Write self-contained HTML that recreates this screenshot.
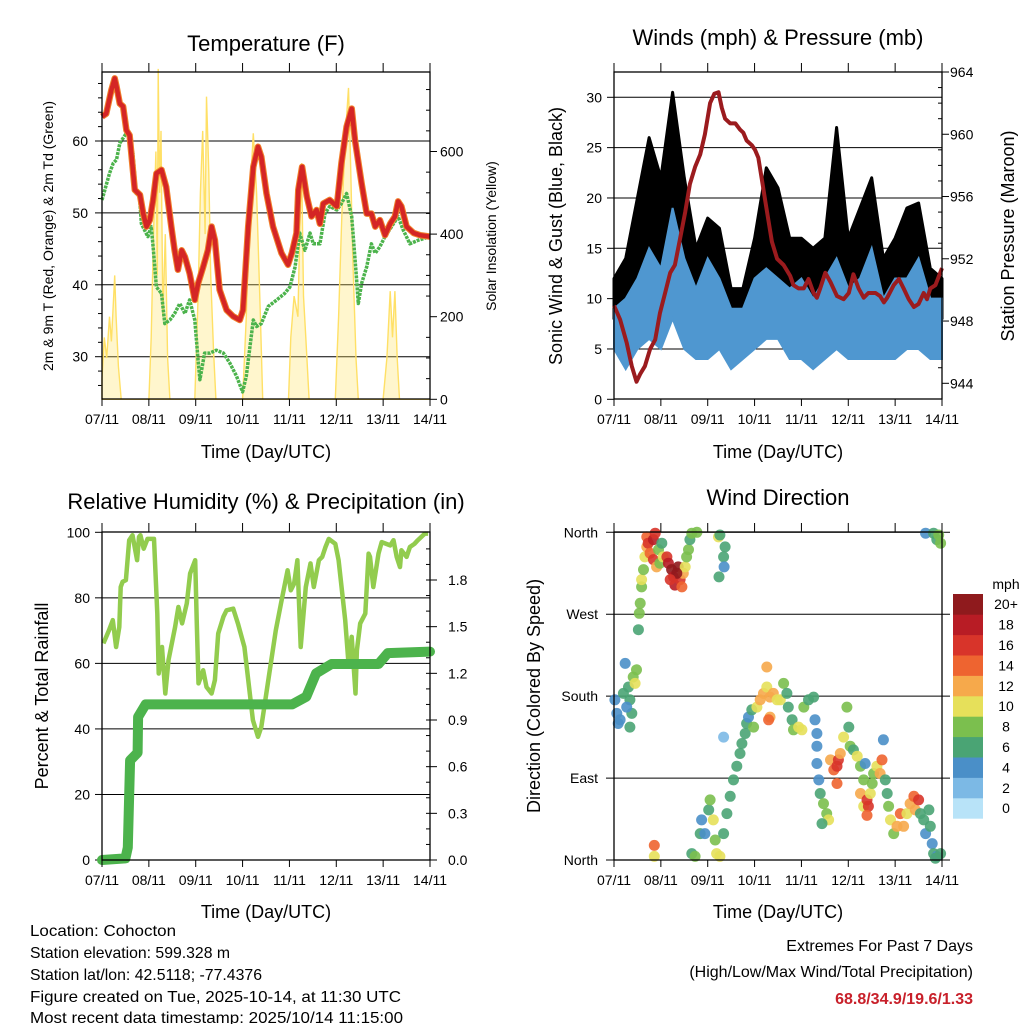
<!DOCTYPE html>
<html><head><meta charset="utf-8"><style>
html,body{margin:0;padding:0;background:#fff}
svg{display:block;font-family:"Liberation Sans",sans-serif}
</style></head><body>
<svg id="fig" width="1024" height="1024" viewBox="0 0 1024 1024" xmlns="http://www.w3.org/2000/svg">
<rect width="1024" height="1024" fill="#fff"/>
<g id="tl"></g>
<g id="tr"></g>
<g id="bl"></g>
<g id="br"></g>
<g id="txt" font-size="14" fill="#000">
<text x="266" y="51" font-size="22" text-anchor="middle">Temperature (F)</text>
<text x="778" y="45" font-size="22" text-anchor="middle">Winds (mph) &amp; Pressure (mb)</text>
<text x="266" y="509" font-size="22" text-anchor="middle">Relative Humidity (%) &amp; Precipitation (in)</text>
<text x="778" y="505" font-size="22" text-anchor="middle">Wind Direction</text>
<text x="266" y="458" font-size="18" text-anchor="middle">Time (Day/UTC)</text>
<text x="778" y="458" font-size="18" text-anchor="middle">Time (Day/UTC)</text>
<text x="266" y="918" font-size="18" text-anchor="middle">Time (Day/UTC)</text>
<text x="778" y="918" font-size="18" text-anchor="middle">Time (Day/UTC)</text>
<text transform="translate(53,236) rotate(-90)" font-size="14" text-anchor="middle">2m &amp; 9m T (Red, Orange) &amp; 2m Td (Green)</text>
<text transform="translate(496,236) rotate(-90)" font-size="14" text-anchor="middle">Solar Insolation (Yellow)</text>
<text transform="translate(562,236) rotate(-90)" font-size="18" text-anchor="middle">Sonic Wind &amp; Gust (Blue, Black)</text>
<text transform="translate(1014,236) rotate(-90)" font-size="18" text-anchor="middle">Station Pressure (Maroon)</text>
<text transform="translate(48,696) rotate(-90)" font-size="18" text-anchor="middle">Percent &amp; Total Rainfall</text>
<text transform="translate(540,696) rotate(-90)" font-size="18" text-anchor="middle">Direction (Colored By Speed)</text>
<g font-size="16">
<text x="30" y="936" textLength="146" lengthAdjust="spacingAndGlyphs">Location: Cohocton</text>
<text x="30" y="958" textLength="200" lengthAdjust="spacingAndGlyphs">Station elevation: 599.328 m</text>
<text x="30" y="980" textLength="232" lengthAdjust="spacingAndGlyphs">Station lat/lon: 42.5118; -77.4376</text>
<text x="30" y="1002" textLength="371" lengthAdjust="spacingAndGlyphs">Figure created on Tue, 2025-10-14, at 11:30 UTC</text>
<text x="30" y="1023" textLength="373" lengthAdjust="spacingAndGlyphs">Most recent data timestamp: 2025/10/14 11:15:00</text>
</g>
<text x="973" y="951" font-size="16" text-anchor="end">Extremes For Past 7 Days</text>
<text x="973" y="977" font-size="16" text-anchor="end">(High/Low/Max Wind/Total Precipitation)</text>
<text x="973" y="1004" font-size="16" font-weight="bold" fill="#c8202a" text-anchor="end">68.8/34.9/19.6/1.33</text>
</g>
</svg>
<script>
// ---------- data ----------
const dayLabels = ["07/11","08/11","09/11","10/11","11/11","12/11","13/11","14/11"];
// Temperature (F)
const tDays = [0,.09,.2,.27,.31,.38,.45,.52,.59,.70,.81,.88,.95,1.02,1.09,1.16,1.27,1.37,1.48,1.55,1.62,1.70,1.77,1.87,1.98,2.05,2.16,2.26,2.34,2.41,2.51,2.66,2.80,2.94,3.01,3.12,3.23,3.33,3.40,3.51,3.65,3.83,3.97,4.05,4.15,4.19,4.27,4.37,4.47,4.58,4.65,4.72,4.86,5.01,5.11,5.22,5.33,5.40,5.54,5.65,5.75,5.83,5.93,6.04,6.15,6.25,6.32,6.39,6.50,6.65,6.79,7.0];
const tempVals = [63.4,63.8,67.1,68.7,67.6,65.2,64.8,61.5,60.8,53.2,52.5,49.9,48.1,49,51.8,55.5,56,53.6,48.1,44.8,42.1,44.8,43.9,41.6,37.9,40.2,42.5,44.8,48.1,46.2,39.3,36.5,35.6,35.1,36.5,48.1,56.4,59.2,57.8,52.7,48.1,44.4,42.8,44.4,47.2,53.2,56.4,52.3,49.5,50.4,48.5,51.3,51.8,50.9,56.9,62,64.5,60.1,54.1,49.9,49.9,48.1,49,46.9,48.5,49.5,51.6,50.9,48.1,47.2,46.9,46.7];
const tdDays = [0,.16,.24,.31,.38,.52,.59,.66,.73,.80,.84,.91,.98,1.05,1.09,1.16,1.27,1.34,1.45,1.55,1.66,1.77,1.87,1.98,2.05,2.09,2.19,2.30,2.44,2.59,2.73,2.87,3.0,3.08,3.23,3.30,3.40,3.55,3.73,3.90,4.01,4.12,4.22,4.33,4.44,4.51,4.65,4.76,4.86,5.01,5.11,5.22,5.33,5.43,5.47,5.54,5.65,5.75,5.83,5.93,6.04,6.18,6.32,6.43,6.57,6.75,7.0];
const dewVals = [51.8,55.5,56.9,57.4,59.7,61.1,60.6,58.3,52.7,52.3,48.5,47.6,46.7,48.1,45.3,39.7,38.8,34.6,35.1,36,37.4,36,37.9,35.1,29.5,26.8,30.5,30.5,30.9,30.5,29.1,27.3,25.1,27.3,35.1,34.2,34.6,37,37.9,38.8,39.7,42.5,47.2,44.8,47.2,45.7,45.7,49.9,50.9,50.4,51.3,52.7,49.5,41.1,37.4,40.2,42.5,45.7,44.4,45.3,46.7,48.1,49.5,47.6,45.7,46.2,46.7];
const solDays = [0,.05,.1,.16,.2,.25,.27,.3,.35,.41, 1.0,1.05,1.1,1.15,1.18,1.2,1.23,1.26,1.3,1.35,1.4,1.45, 1.98,2.05,2.1,2.15,2.2,2.23,2.28,2.32,2.38,2.43, 3.0,3.08,3.15,3.23,3.3,3.38,3.43, 3.98,4.03,4.1,4.18,4.22,4.26,4.3,4.35,4.42, 4.98,5.05,5.12,5.2,5.26,5.3,5.35,5.42,5.47, 6.0,6.08,6.15,6.2,6.25,6.3,6.35];
const solVals = [50,150,100,200,140,250,300,200,80,0, 0,150,400,600,300,800,500,650,200,400,100,0, 0,250,500,650,400,733,550,300,120,0, 0,200,480,644,500,200,0, 0,150,250,200,400,572,250,150,0, 0,200,450,650,754,600,350,100,0, 0,100,262,150,262,100,0];
// Winds (mph) at quarter-day steps
const windDays = [0,.25,.5,.75,1,1.25,1.5,1.75,2,2.25,2.5,2.75,3,3.25,3.5,3.75,4,4.25,4.5,4.75,5,5.25,5.5,5.75,6,6.25,6.5,6.75,7];
const blueLo = [5,3,5,6,5,8,5,4,4,5,3,4,5,6,6,4,4,3,4,5,4,4,4,4,4,5,5,4,4];
const blueHi = [9,10,12,15,13,19,14,11,14,12,9,9,12,13,12,11,12,10,12,14,11,12,15,10,12,12,14,10,10];
const gustLo = [8,9,10,12,10,15,10,8,10,9,7,7,9,12,10,8,8,7,9,10,8,9,10,7,9,10,10,7,8];
const gustHi = [12,14,20,26,22,30.5,22,15,18,17,11,11,16,23,21,16,16,15,16,27,16,19,22,14,16,19,19.5,13,12];
// Pressure (mb)
const pDays = [0,.13,.27,.38,.48,.56,.66,.77,.88,.98,1.09,1.20,1.30,1.41,1.52,1.62,1.73,1.84,1.94,2.05,2.14,2.23,2.30,2.37,2.48,2.59,2.69,2.76,2.83,2.94,3.01,3.08,3.16,3.23,3.30,3.37,3.48,3.62,3.76,3.83,3.94,4.05,4.15,4.26,4.33,4.40,4.51,4.62,4.76,4.90,5.01,5.11,5.22,5.33,5.43,5.58,5.68,5.76,5.83,5.97,6.08,6.18,6.29,6.40,6.50,6.61,6.68,6.75,6.86,7.0];
const presVals = [949.0,948.1,946.6,945.1,944.1,944.6,945.1,946.2,946.8,948.5,949.8,951.1,951.6,953.3,955.0,956.8,957.9,958.7,960.0,962.0,962.6,962.7,961.7,961.0,960.7,960.7,960.3,960.1,959.6,959.3,959.0,958.5,957.0,955.7,954.4,953.1,952.0,951.6,950.9,950.3,950.1,950.1,950.7,949.8,949.5,950.1,951.1,950.5,949.6,949.4,949.8,951.0,950.1,949.5,949.8,949.8,949.6,949.2,949.5,950.3,950.7,950.1,949.4,948.9,949.1,949.8,949.4,950.1,950.3,951.4];
// Relative humidity (%)
const rhDays = [0.03,.15,.23,.30,.37,.40,.44,.51,.58,.65,.75,.79,.82,.89,.97,1.11,1.18,1.21,1.28,1.35,1.42,1.56,1.63,1.71,1.81,1.88,1.99,2.02,2.06,2.16,2.23,2.34,2.41,2.48,2.59,2.66,2.80,2.90,3.04,3.22,3.33,3.40,3.57,3.71,3.82,3.96,4.03,4.10,4.17,4.24,4.35,4.45,4.52,4.63,4.70,4.77,4.84,4.98,5.05,5.19,5.26,5.33,5.41,5.44,5.51,5.62,5.69,5.72,5.79,5.90,5.97,6.15,6.22,6.29,6.36,6.39,6.50,6.57,6.67,6.74,6.89,6.96];
const rhVals = [66.1,70.1,73.2,65,71.1,83.3,84.9,85.4,97.6,99.1,91.5,98.6,99.1,95,98,98,75.2,56.9,65,50.8,61,71.1,77.2,72.2,78.3,87.4,91.5,73.2,53.9,57.9,52.8,50.8,54.9,69.1,74.2,76.2,76.7,72.2,65,42.7,37.6,40.6,56.9,70.1,78.3,88.4,82.3,84.3,91.5,65,83.3,90.5,83.3,91.5,92.5,95.5,98,96.5,91.5,73.2,60,68.1,50.8,64,72.2,75.2,93.5,92.5,83.3,93.5,97,96,97.6,92.5,89.4,94.5,92.5,95.5,96.5,97.6,99.6,99.6];
// Cumulative precipitation (in)
const prDays = [0,.5,.55,.57,.6,.76,.77,.93,4.06,4.36,4.57,4.9,5.9,6.1,7];
const prVals = [0,0.01,0.08,0.3,0.64,0.69,0.92,1.0,1.0,1.05,1.2,1.26,1.26,1.33,1.34];
// Wind direction points
const dirDays = [.02,.06,.13,.20,.24,.31,.34,.38,.41,.45,.48,.27,.09,.34, .52,.54,.56,.59,.59,.63,.66,.70,.70,.73, .77,.84,.88,.84,.91,.95,.98,1.02,1.05,1.13,1.16,1.23,1.27,1.30,1.37,1.41,1.48,1.52,1.55,1.59,1.62,1.66,1.77,1.34,1.45,1.20, 2.23,2.26,2.37,2.34,2.35,2.24, .86,.86, 1.66,1.73,1.84,1.87,1.94,2.02,2.05,2.12,2.16,2.19,2.26,2.34,2.41,2.48,2.55,2.62,2.69,2.73,2.80,2.83,2.87,2.94,2.98,2.34, 3.05,3.12,3.19,3.26,3.26,3.33,3.40,3.48,3.55,3.33,3.30,3.62,3.69,3.72,3.80,3.83,3.94,4.01,4.05,4.15,4.26,4.29,4.33, 4.33,4.33,4.37,4.40,4.47,4.54,4.58,4.44,4.62,4.69,4.76,4.79,4.83,4.76,4.90,4.97,5.01,5.04,5.11,5.19,5.26,5.33,5.36, 5.26,5.33,5.40,5.43,5.40,5.47,5.51,5.54,5.61,5.68,5.72,5.75,5.79,5.83,5.86,5.90,5.97,6.04,6.11,6.18,6.25,6.32,6.40,6.43,6.50,6.54,6.61,6.65,6.72,6.75,6.79,6.82,6.89,6.97,6.86, 6.65,6.82,6.89,6.97,6.93];
const dirDeg = [176,161,154,183,216,190,176,161,201,194,209,168,150,146, 253,271,282,300,308,319,333,344,355,348, 337,352,359,330,322,341,326,348,333,333,326,319,311,302,322,308,315,322,333,341,352,359,360,315,300,308, 355,357,344,333,322,311, 16,4, 7,4,29,44,29,55,66,44,22,7,4,29,51,70,88,103,117,128,139,150,157,165,146,135, 168,176,183,190,212,179,183,176,176,157,154,194,183,168,154,143,146,143,168,176,179,154,139, 125,106,88,73,62,51,44,40,110,99,103,110,117,84,135,168,146,125,121,114,103,88,106, 73,59,66,59,49,73,84,95,103,95,110,132,88,73,59,44,29,37,51,37,51,62,70,55,66,51,44,29,55,37,18,7,4,7,2, 359,359,352,348,357];
const dirSpd = [4,4,4,6,4,6,6,6,8,10,8,4,4,6, 6,8,8,8,10,8,10,12,14,16, 14,18,16,16,12,8,8,6,10,16,18,20,18,18,20,16,12,10,8,8,6,8,8,20,14,16, 10,6,6,6,4,6, 14,10, 6,8,6,4,4,6,8,10,8,10,10,6,6,6,6,6,6,6,6,6,4,6,8,2, 10,12,12,10,12,12,12,10,10,12,14,8,6,6,6,8,10,10,8,6,6,4,4, 4,4,4,6,8,8,10,6,12,14,16,16,12,14,10,8,6,8,6,10,8,8,4, 12,10,16,16,14,10,8,8,10,12,14,4,6,6,8,10,8,12,14,12,10,12,14,12,16,6,6,4,6,6,4,6,4,6,6, 4,6,6,8,8];
const cbLabels = ["0","2","4","6","8","10","12","14","16","18","20+"];
const cbColors = ["#b8e3f8","#7cb9e5","#4a8fc8","#4aa474","#7bbf4e","#e6e05a","#f6a94b","#ee6430","#d8342a","#b81c25","#8f1a1d"];

// ---------- helpers ----------
const NS = "http://www.w3.org/2000/svg";
function mk(parent, tag, attrs){ const e=document.createElementNS(NS,tag); for(const k in attrs) e.setAttribute(k,attrs[k]); parent.appendChild(e); return e; }
function lin(d0,d1,r0,r1){ return v => r0 + (v-d0)/(d1-d0)*(r1-r0); }
function pts(xs,ys,fx,fy){ return xs.map((d,i)=>fx(d).toFixed(1)+","+fy(ys[i]).toFixed(1)).join(" "); }

function frame(g, x0,x1,y0,y1, xs){
  for(let i=0;i<dayLabels.length;i++){
    const x=xs(i);
    const t1=mk(g,"line",{x1:x,x2:x,y1:y0-9,y2:y0,stroke:"#000","stroke-width":1});
    
    
    const t2=mk(g,"line",{x1:x,x2:x,y1:y1,y2:y1+7,stroke:"#000","stroke-width":1});
    
    
    const tx=mk(g,"text",{x:x,y:y1+25,"font-size":14,"text-anchor":"middle"});
    tx.textContent=dayLabels[i];
    
    
  }
}
function box(g,x0,x1,y0,y1){
  const r=mk(g,"rect",{x:x0,y:y0,width:x1-x0,height:y1-y0,fill:"none",stroke:"#000","stroke-width":1.3});
  
  
}
function hgrid(g,x0,x1,y){
  const l=mk(g,"line",{x1:x0,x2:x1,y1:y,y2:y,stroke:"#000","stroke-width":1});
  
  
}
function ylab(g,x,y,s,anchor){
  const t=mk(g,"text",{x:x,y:y+5,"font-size":14,"text-anchor":anchor});
  t.textContent=s;
  
  
}
function tick(g,x,y,len){
  const l=mk(g,"line",{x1:x,x2:x+len,y1:y,y2:y,stroke:"#000","stroke-width":1});
  
  
}

// ---------- Temperature panel ----------
(function(){
  const g=document.getElementById("tl");
  const X0=102,X1=430,Y0=72,Y1=399;
  const fx=lin(0,7,X0,X1), fy=lin(30,60,356.7,141), fs=lin(0,600,399.3,151.5);
  [30,40,50,60].forEach(v=>{hgrid(g,X0,X1,fy(v)); ylab(g,X0-14,fy(v),String(v),"end"); tick(g,X0-7,fy(v),7);});
  for(let v=26;v<=70;v+=2){ if(v%10) tick(g,X0-4,fy(v),4); }
  [0,200,400,600].forEach(v=>{ylab(g,X1+10,fs(v),String(v),"start"); tick(g,X1,fs(v),7);});
  for(let v=50;v<=750;v+=50){ if(v%200) tick(g,X1-4,fs(v),4); }
  const base = fx(0).toFixed(1)+","+fs(0).toFixed(1)+" ";
  const baseEnd = " "+fx(7).toFixed(1)+","+fs(0).toFixed(1);
  const sol=mk(g,"polygon",{points:base+pts(solDays,solVals,fx,fs)+baseEnd,fill:"rgba(255,226,90,0.3)",stroke:"#ffe066","stroke-width":1.4});
  
  
  const td=mk(g,"polyline",{points:pts(tdDays,dewVals,fx,fy),fill:"none",stroke:"#4cb34c","stroke-width":3.5,"stroke-dasharray":"3 1","stroke-linejoin":"round"});
  
  
  const t9=mk(g,"polyline",{points:pts(tDays,tempVals,fx,fy),fill:"none",stroke:"#f07f2a","stroke-width":6.5,"stroke-linejoin":"round"});
  
  
  const t2=mk(g,"polyline",{points:pts(tDays,tempVals,fx,fy),fill:"none",stroke:"#d42525","stroke-width":4.5,"stroke-linejoin":"round"});
  
  
  box(g,X0,X1,Y0,Y1);
  frame(g,X0,X1,Y0,Y1,i=>fx(i));
})();

// ---------- Winds panel ----------
(function(){
  const g=document.getElementById("tr");
  const X0=614,X1=942,Y0=72,Y1=399;
  const fx=lin(0,7,X0,X1), fy=lin(0,30,399.3,97.3), fp=lin(944,964,383.3,72);
  [5,10,15,20,25,30].forEach(v=>hgrid(g,X0,X1,fy(v)));
  [0,5,10,15,20,25,30].forEach(v=>{ylab(g,X0-12,fy(v),String(v),"end"); tick(g,X0-7,fy(v),7);});
  [944,948,952,956,960,964].forEach(v=>{ylab(g,X1+8,fp(v),String(v),"start"); tick(g,X1,fp(v),7);});
  for(let v=945;v<964;v++){ if(v%4) tick(g,X1-4,fp(v),4); }
  const gust=mk(g,"polygon",{points:pts(windDays,gustHi,fx,fy)+" "+pts(windDays.slice().reverse(),gustLo.slice().reverse(),fx,fy),fill:"#000",stroke:"#000","stroke-width":3,"stroke-linejoin":"round"});
  
  
  const wind=mk(g,"polygon",{points:pts(windDays,blueHi,fx,fy)+" "+pts(windDays.slice().reverse(),blueLo.slice().reverse(),fx,fy),fill:"#4f97d0",stroke:"#4f97d0","stroke-width":2});
  
  
  const pr=mk(g,"polyline",{points:pts(pDays,presVals,fx,fp),fill:"none",stroke:"#9b1b1e","stroke-width":4,"stroke-linejoin":"round"});
  
  
  box(g,X0,X1,Y0,Y1);
  frame(g,X0,X1,Y0,Y1,i=>fx(i));
})();

// ---------- Humidity panel ----------
(function(){
  const g=document.getElementById("bl");
  const X0=102,X1=430,Y0=532,Y1=860;
  const fx=lin(0,7,X0,X1), fy=lin(0,100,860,532.3), fr=lin(0,1.8,860,580);
  [20,40,60,80].forEach(v=>hgrid(g,X0,X1,fy(v)));
  [0,20,40,60,80,100].forEach(v=>{ylab(g,X0-12,fy(v),String(v),"end"); tick(g,X0-7,fy(v),7);});
  ["0.0","0.3","0.6","0.9","1.2","1.5","1.8"].forEach(s=>{ylab(g,X1+18,fr(+s),s,"start"); tick(g,X1,fr(+s),7);});
  for(let v=0.1;v<2.1;v+=0.1){ tick(g,X1-4,fr(v),4); }
  const rh=mk(g,"polyline",{points:pts(rhDays,rhVals,fx,fy),fill:"none",stroke:"#92cc4e","stroke-width":4.5,"stroke-linejoin":"round"});
  
  
  const pc=mk(g,"polyline",{points:pts(prDays,prVals,fx,fr),fill:"none",stroke:"#4cb34c","stroke-width":10,"stroke-linejoin":"round","stroke-linecap":"round"});
  
  
  box(g,X0,X1,Y0,Y1);
  frame(g,X0,X1,Y0,Y1,i=>fx(i));
})();

// ---------- Wind direction panel ----------
(function(){
  const g=document.getElementById("br");
  const X0=614,X1=942,Y0=532,Y1=860;
  const fx=lin(0,7,X0,X1), fy=lin(0,360,860,532.3);
  const names=["North","East","South","West","North"];
  [90,180,270].forEach(v=>hgrid(g,X0-8,X1+8,fy(v)));
  [0,360].forEach(v=>hgrid(g,X0-8,X1+8,fy(v)));
  names.forEach((s,i)=>ylab(g,X0-16,fy(i*90),s,"end"));
  dirDays.forEach((d,i)=>{
    const c=mk(g,"circle",{cx:fx(d).toFixed(1),cy:fy(dirDeg[i]).toFixed(1),r:5.5,fill:cbColors[Math.min(10,Math.floor(dirSpd[i]/2))],"fill-opacity":0.9});
    
    
  });
  box(g,X0,X1,Y0,Y1);
  frame(g,X0,X1,Y0,Y1,i=>fx(i));
  const cb=mk(g,"g",{});
  
  
  const ut=mk(cb,"text",{x:1006,y:589,"font-size":14,"text-anchor":"middle"});
  ut.textContent="mph";
  
  
  const h=20.4, top=594;
  cbLabels.forEach((s,i)=>{
    const y=top+(10-i)*h;
    const r=mk(cb,"rect",{x:953,y:y,width:30,height:h+0.3,fill:cbColors[i]});
    
    
    const t=mk(cb,"text",{x:1006,y:y+h/2+5,"font-size":14,"text-anchor":"middle"});
    t.textContent=s;
    
    
  });
})();
</script>
</body></html>
